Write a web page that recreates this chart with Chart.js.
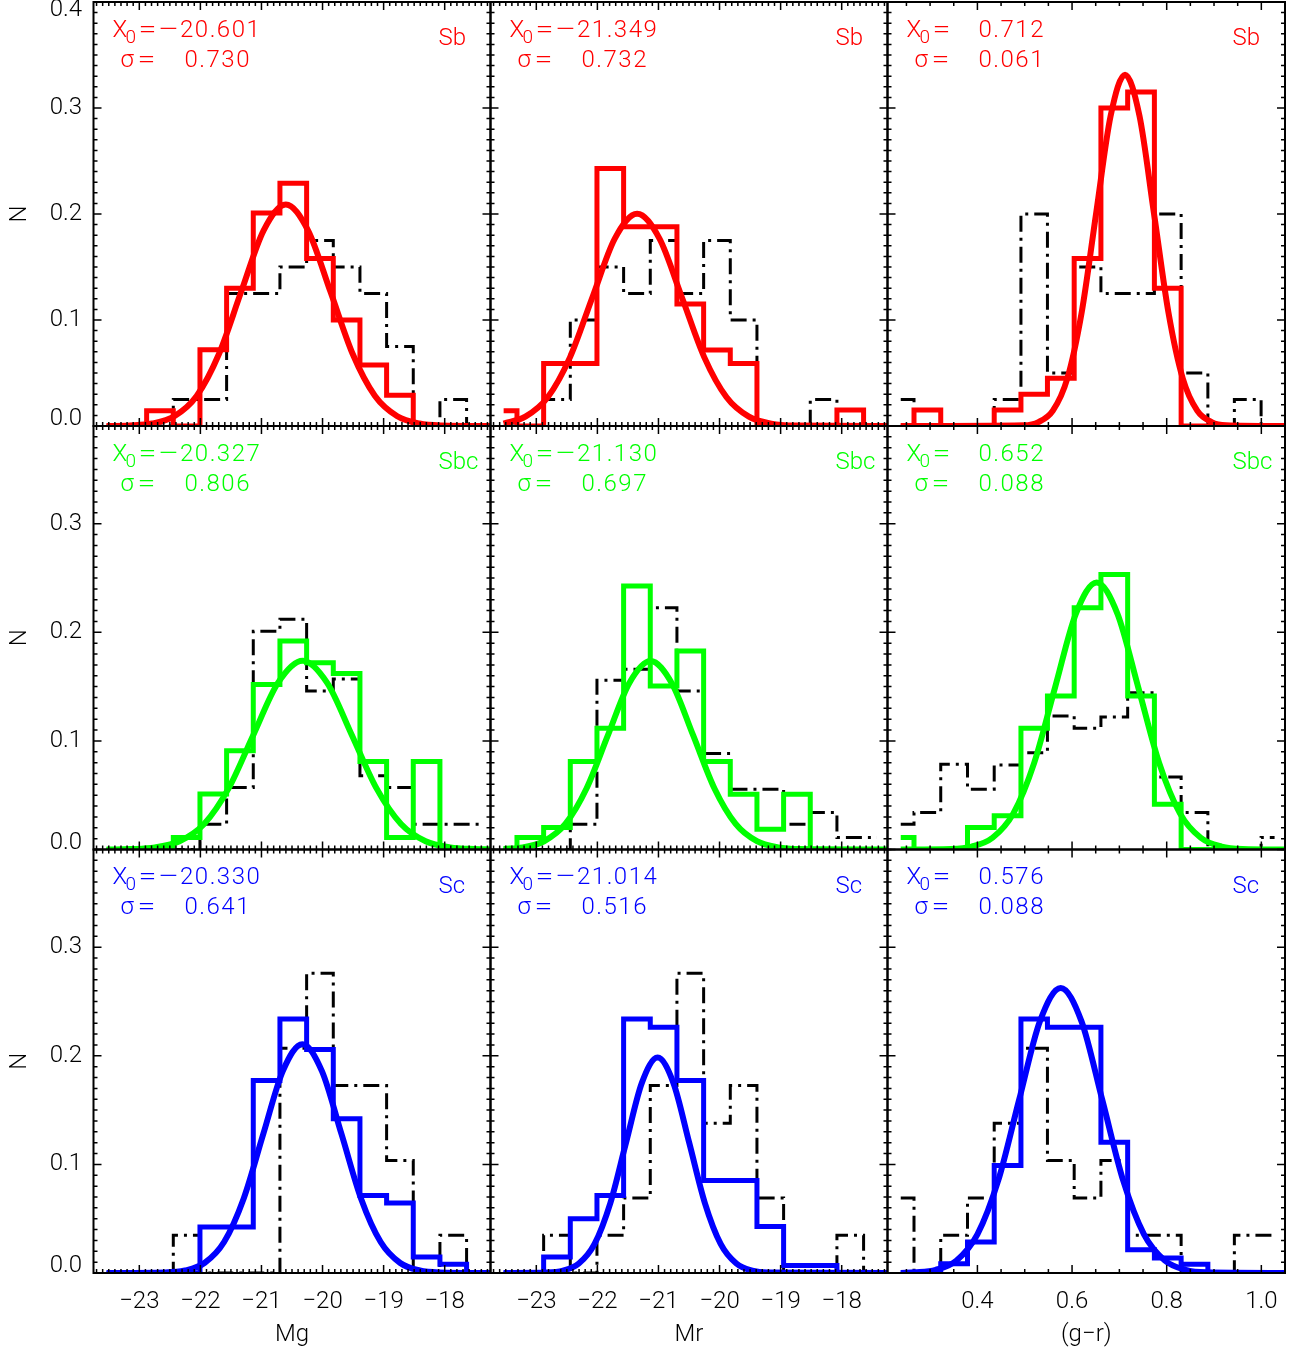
<!DOCTYPE html>
<html>
<head>
<meta charset="utf-8">
<script src="https://cdn.jsdelivr.net/npm/chart.js@4.4.0/dist/chart.umd.min.js"></script>
<style>
  body { margin: 0; background: #fff; }
  #wrap { position: relative; width: 1302px; height: 1351px; }
  #wrap canvas { position: absolute; left: 0; top: 0; }
</style>
</head>
<body>
<div id="wrap"></div>
<script>
// bin centres shared by the magnitude columns and by the colour column
const magCenters = [-23.535, -23.098, -22.662, -22.225, -21.789, -21.352, -20.916, -20.479, -20.042, -19.606, -19.169, -18.733, -18.296, -17.860, -17.423, -16.987];
const grCenters = [0.238, 0.294, 0.351, 0.407, 0.464, 0.520, 0.576, 0.633, 0.689, 0.746, 0.802, 0.859, 0.915, 0.971, 1.028, 1.084];

const magTicks = [-23, -22, -21, -20, -19, -18];
const grTicks = [0.4, 0.6, 0.8, 1.0];
const yTicks = [0, 0.1, 0.2, 0.3, 0.4];

// Sb
const sbMgHist = [0, 0, 0.0145, 0, 0.072, 0.130, 0.201, 0.229, 0.158, 0.100, 0.0575, 0.029, 0, 0, 0, 0];
const sbMgAll  = [0, 0, 0, 0.025, 0.025, 0.125, 0.125, 0.15, 0.175, 0.15, 0.125, 0.075, 0, 0.025, 0];
const sbMrHist = [0.0145, 0, 0.059, 0.059, 0.243, 0.188, 0.188, 0.115, 0.0717, 0.059, 0, 0, 0, 0.0151, 0, 0];
const sbMrAll  = [0, 0, 0.025, 0.1, 0.15, 0.125, 0.175, 0.125, 0.175, 0.1, 0, 0, 0.025, 0, 0];
const sbGrHist = [0, 0.015, 0, 0, 0.015, 0.030, 0.045, 0.158, 0.300, 0.315, 0.130, 0, 0, 0, 0, 0];
const sbGrAll  = [0.025, 0, 0, 0, 0.025, 0.2, 0.05, 0.15, 0.125, 0.125, 0.2, 0.05, 0, 0.025, 0];

// Sbc
const sbcMgHist = [0, 0, 0, 0.011, 0.051, 0.091, 0.152, 0.192, 0.172, 0.162, 0.081, 0.011, 0.081, 0, 0, 0];
const sbcMgAll  = [0, 0, 0, 0, 0.0233, 0.057, 0.201, 0.212, 0.146, 0.157, 0.068, 0.057, 0.0233, 0.0233, 0.0233];
const sbcMrHist = [0, 0.011, 0.0202, 0.081, 0.1116, 0.2426, 0.1506, 0.1828, 0.081, 0.0509, 0.0187, 0.0509, 0, 0, 0, 0];
const sbcMrAll  = [0, 0, 0, 0.0233, 0.1558, 0.1659, 0.2226, 0.146, 0.0883, 0.0555, 0.0555, 0.0233, 0.034, 0.011, 0.011];
const sbcGrHist = [0.011, 0, 0, 0.0202, 0.031, 0.1116, 0.1414, 0.2226, 0.2533, 0.1414, 0.0417, 0, 0, 0, 0, 0];
const sbcGrAll  = [0.0233, 0.034, 0.0785, 0.0555, 0.0779, 0.0892, 0.123, 0.1116, 0.122, 0.1444, 0.0668, 0.034, 0, 0, 0.011];

// Sc
const scMgHist = [0, 0, 0, 0, 0.0423, 0.0423, 0.1772, 0.234, 0.2058, 0.142, 0.0714, 0.0644, 0.0147, 0.008, 0, 0];
const scMgAll  = [0, 0, 0, 0.0347, 0, 0, 0, 0.207, 0.276, 0.1726, 0.1726, 0.1036, 0, 0.0347, 0];
const scMrHist = [0, 0, 0.0147, 0.05, 0.0714, 0.234, 0.2263, 0.1772, 0.0852, 0.0852, 0.0429, 0.007, 0.007, 0, 0, 0];
const scMrAll  = [0, 0, 0.0347, 0, 0.0347, 0.069, 0.1726, 0.276, 0.138, 0.1726, 0.069, 0, 0, 0.0347, 0];
const scGrHist = [0, 0, 0.0086, 0.0285, 0.099, 0.234, 0.2263, 0.2263, 0.1205, 0.0215, 0.0138, 0.008, 0, 0, 0, 0];
const scGrAll  = [0.069, 0, 0.0347, 0.069, 0.138, 0.207, 0.1036, 0.069, 0.1036, 0.0347, 0.0347, 0, 0, 0.0347, 0.0347];

// fitted curves
const sbMgFitX = [-23.535, -23.156, -22.791, -22.426, -22.061, -21.696, -21.331, -20.966, -20.601, -20.236, -19.871, -19.506, -19.141, -18.776, -18.411, -18.046, -17.25];
const sbMgFitY = [0, 0.0005, 0.0023, 0.0092, 0.0283, 0.0679, 0.1268, 0.1844, 0.209, 0.1844, 0.1268, 0.0679, 0.0283, 0.0092, 0.0023, 0.0005, 0];
const sbMrFitX = [-23.535, -23.179, -22.813, -22.447, -22.081, -21.715, -21.349, -20.983, -20.617, -20.251, -19.885, -19.519, -19.153, -18.787, -17.25];
const sbMrFitY = [0.0023, 0.0088, 0.0271, 0.0650, 0.1215, 0.1768, 0.2003, 0.1768, 0.1215, 0.0650, 0.0271, 0.0088, 0.0022, 0.0004, 0];
const sbGrFitX = [0.238, 0.4985, 0.529, 0.5595, 0.590, 0.6205, 0.651, 0.6815, 0.712, 0.7425, 0.773, 0.8035, 0.834, 0.8645, 0.895, 0.9255, 1.05];
const sbGrFitY = [0, 0.0007, 0.0037, 0.0145, 0.0448, 0.1076, 0.2010, 0.2925, 0.3314, 0.2925, 0.2010, 0.1076, 0.0448, 0.0145, 0.0037, 0.0007, 0];

const sbcMgFitX = [-23.535, -23.148, -22.745, -22.342, -21.939, -21.536, -21.133, -20.730, -20.327, -19.924, -19.521, -19.118, -18.715, -18.312, -17.909, -17.506, -17.25];
const sbcMgFitY = [0, 0.0004, 0.0019, 0.0076, 0.0235, 0.0565, 0.1055, 0.1535, 0.1739, 0.1535, 0.1055, 0.0565, 0.0235, 0.0076, 0.0019, 0.0004, 0.0001];
const sbcMrFitX = [-23.535, -23.221, -22.873, -22.524, -22.176, -21.827, -21.479, -21.130, -20.782, -20.433, -20.085, -19.736, -19.388, -19.039, -18.691, -17.25];
const sbcMrFitY = [0.0005, 0.0019, 0.0076, 0.0235, 0.0564, 0.1053, 0.1532, 0.1736, 0.1532, 0.1053, 0.0564, 0.0235, 0.0076, 0.0019, 0.0004, 0];
const sbcGrFitX = [0.238, 0.344, 0.388, 0.432, 0.476, 0.520, 0.564, 0.608, 0.652, 0.696, 0.740, 0.784, 0.828, 0.872, 0.916, 0.960, 1.05];
const sbcGrFitY = [0, 0.0005, 0.0027, 0.0108, 0.0333, 0.0798, 0.1491, 0.2170, 0.2459, 0.2170, 0.1491, 0.0798, 0.0333, 0.0108, 0.0027, 0.0005, 0];

const scMgFitX = [-23.535, -22.574, -22.253, -21.933, -21.612, -21.292, -20.971, -20.651, -20.330, -20.010, -19.689, -19.369, -19.048, -18.728, -18.407, -18.087, -17.25];
const scMgFitY = [0, 0.0005, 0.0023, 0.0092, 0.0285, 0.0684, 0.1278, 0.1859, 0.2107, 0.1859, 0.1278, 0.0684, 0.0285, 0.0092, 0.0023, 0.0005, 0];
const scMrFitX = [-23.535, -22.820, -22.562, -22.304, -22.046, -21.788, -21.530, -21.272, -21.014, -20.756, -20.498, -20.240, -19.982, -19.724, -19.466, -19.208, -17.25];
const scMrFitY = [0, 0.0004, 0.0022, 0.0087, 0.0268, 0.0644, 0.1203, 0.1751, 0.1984, 0.1751, 0.1203, 0.0644, 0.0268, 0.0087, 0.0022, 0.0004, 0];
const scGrFitX = [0.238, 0.268, 0.312, 0.356, 0.400, 0.444, 0.488, 0.532, 0.576, 0.620, 0.664, 0.708, 0.752, 0.796, 0.840, 0.884, 1.05];
const scGrFitY = [0.0001, 0.0006, 0.0029, 0.0115, 0.0355, 0.0852, 0.1592, 0.2317, 0.2625, 0.2317, 0.1592, 0.0852, 0.0355, 0.0115, 0.0029, 0.0006, 0];

// fit parameters printed in each panel (columns: Mg, Mr, g-r)
const sbFitCentre = [-20.601, -21.349, 0.712];
const sbFitSigma = [0.730, 0.732, 0.061];
const sbcFitCentre = [-20.327, -21.130, 0.652];
const sbcFitSigma = [0.806, 0.697, 0.088];
const scFitCentre = [-20.330, -21.014, 0.576];
const scFitSigma = [0.641, 0.516, 0.088];

const typeNames = ['Sb', 'Sbc', 'Sc'];
const typeColors = ['#ff0000', '#00ff00', '#0000ff'];
const axisTitles = ['Mg', 'Mr', '(g\u2212r)'];

// layout of the 3x3 grid (pixels)
const ROWS = [[2, 426], [426, 849.5], [849.5, 1273]];
const COLS = [[93.5, 490.5], [490.5, 887.5], [887.5, 1285]];
const W = 1302, H = 1351;
const FONT = 'Roboto, "DejaVu Sans", sans-serif';

const pts = (xs, ys) => ys.map((y, i) => ({ x: xs[i], y: y }));
const minus = v => (v < 0 ? '\u2212' + Math.abs(v) : String(v));

function stepsIn(min, max, step) {
    const out = [];
    for (let i = Math.ceil(min / step - 1e-6); i * step <= max + 1e-9; i++) out.push(i * step);
    return out;
}

// the plot font has wide '=' and '−' signs, so draw those stretched
function wideText(ctx, s, x, y, sx) {
    ctx.save();
    ctx.translate(x, y);
    ctx.scale(sx, 1);
    ctx.fillText(s, 0, 0);
    ctx.restore();
}

// frame, inward ticks on all sides, y labels and the fit labels
const panelDecor = {
    id: 'panelDecor',
    afterDatasetsDraw(chart, args, o) {
        const { ctx, chartArea: a } = chart;
        const xs = chart.scales.x, ys = chart.scales.y;
        ctx.save();
        ctx.strokeStyle = '#000';
        ctx.lineWidth = 1.5;
        ctx.beginPath();
        stepsIn(xs.min, xs.max, o.xMinor).forEach(v => {
            const px = xs.getPixelForValue(v);
            const len = o.xMajor.some(m => Math.abs(m - v) < 1e-6) ? 8 : 4;
            ctx.moveTo(px, a.bottom); ctx.lineTo(px, a.bottom - len);
            ctx.moveTo(px, a.top); ctx.lineTo(px, a.top + len);
        });
        stepsIn(ys.min, ys.max, 0.01).forEach(v => {
            const py = ys.getPixelForValue(v);
            const len = yTicks.some(m => Math.abs(m - v) < 1e-6) ? 8 : 4;
            ctx.moveTo(a.left, py); ctx.lineTo(a.left + len, py);
            ctx.moveTo(a.right, py); ctx.lineTo(a.right - len, py);
        });
        ctx.stroke();
        ctx.lineWidth = 2;
        ctx.strokeRect(a.left, a.top, a.right - a.left, a.bottom - a.top);

        // y tick labels (end labels pulled inside the panel, as in the original)
        if (o.yLabels) {
            ctx.fillStyle = '#000';
            ctx.font = '300 24px ' + FONT;
            ctx.textAlign = 'right';
            ctx.textBaseline = 'middle';
            yTicks.filter(v => v <= ys.max + 1e-9).forEach(v => {
                let py = ys.getPixelForValue(v);
                if (v === 0) py -= 7;
                if (Math.abs(v - ys.max) < 1e-9) py += 8;
                ctx.fillText(v.toFixed(1), a.left - 11.5, py);
            });
        }

        // X0 / sigma text
        const L = a.left, T = a.top;
        ctx.fillStyle = o.color;
        ctx.textAlign = 'left';
        ctx.textBaseline = 'alphabetic';
        ctx.font = '300 24px ' + FONT;
        ctx.fillText('X', L + 19, T + 34.7);
        wideText(ctx, '=', L + 45, T + 34.7, 1.35);
        ctx.fillText('\u03c3', L + 27, T + 64.7);
        wideText(ctx, '=', L + 44, T + 64.7, 1.35);
        ctx.fillText(o.type, L + 345, T + 43);
        ctx.font = '300 19px ' + FONT;
        ctx.fillText('0', L + 32, T + 40.5);
        ctx.font = '300 24px ' + FONT;
        const c = o.centre;
        if (c < 0) wideText(ctx, '\u2212', L + 64, T + 34.7, 1.6);
        ctx.letterSpacing = '1.5px';
        if (c < 0) ctx.fillText(Math.abs(c).toFixed(3), L + 86.5, T + 34.7);
        else ctx.fillText(c.toFixed(3), L + 91, T + 34.7);
        ctx.fillText(o.sigma.toFixed(3), L + 91, T + 64.7);
        ctx.restore();
    }
};

const panels = [
    [sbMgHist, sbMgAll, sbMgFitX, sbMgFitY], [sbMrHist, sbMrAll, sbMrFitX, sbMrFitY], [sbGrHist, sbGrAll, sbGrFitX, sbGrFitY],
    [sbcMgHist, sbcMgAll, sbcMgFitX, sbcMgFitY], [sbcMrHist, sbcMrAll, sbcMrFitX, sbcMrFitY], [sbcGrHist, sbcGrAll, sbcGrFitX, sbcGrFitY],
    [scMgHist, scMgAll, scMgFitX, scMgFitY], [scMrHist, scMrAll, scMrFitX, scMrFitY], [scGrHist, scGrAll, scGrFitX, scGrFitY]
];
const centres = [sbFitCentre, sbcFitCentre, scFitCentre];
const sigmas = [sbFitSigma, sbcFitSigma, scFitSigma];

const tickFont = { family: FONT, size: 24, weight: 300 };
const wrap = document.getElementById('wrap');

panels.forEach((p, i) => {
    const row = Math.floor(i / 3), col = i % 3;
    const isColour = col === 2;
    const centers = isColour ? grCenters : magCenters;
    const color = typeColors[row];
    const leftCol = col === 0, bottomRow = row === 2;

    const canvas = document.createElement('canvas');
    canvas.width = W;
    canvas.height = H;
    wrap.appendChild(canvas);

    new Chart(canvas, {
        type: 'line',
        data: {
            datasets: [
                {
                    data: pts(p[2], p[3]),
                    borderColor: color, borderWidth: 6, pointRadius: 0,
                    cubicInterpolationMode: 'monotone', order: 0
                },
                {
                    data: pts(centers, p[0]),
                    borderColor: color, borderWidth: 5, pointRadius: 0,
                    stepped: 'middle', borderJoinStyle: 'miter', borderCapStyle: 'butt', order: 1
                },
                {
                    data: pts(centers, p[1]),
                    borderColor: '#000', borderWidth: 3, pointRadius: 0,
                    borderDash: [16, 6, 3, 6], stepped: 'middle', borderJoinStyle: 'miter', order: 2
                }
            ]
        },
        options: {
            responsive: false,
            animation: false,
            events: [],
            layout: {
                padding: {
                    left: leftCol ? 0 : COLS[col][0],
                    right: W - COLS[col][1],
                    top: ROWS[row][0],
                    bottom: bottomRow ? 0 : H - ROWS[row][1]
                }
            },
            plugins: {
                legend: { display: false },
                tooltip: { enabled: false },
                panelDecor: {
                    color: color,
                    type: typeNames[row],
                    centre: centres[row][col],
                    sigma: sigmas[row][col],
                    xMajor: isColour ? grTicks : magTicks,
                    xMinor: isColour ? 0.05 : 0.1,
                    yLabels: leftCol
                }
            },
            scales: {
                x: {
                    type: 'linear',
                    min: isColour ? 0.21 : -23.75,
                    max: isColour ? 1.05 : -17.25,
                    display: bottomRow,
                    grid: { display: false, drawTicks: false },
                    border: { display: false },
                    afterBuildTicks: s => { s.ticks = (isColour ? grTicks : magTicks).map(v => ({ value: v })); },
                    afterFit: s => {
                        if (!bottomRow) return;
                        s.height = H - ROWS[2][1];
                        s.paddingLeft = 0; s.paddingRight = 0;
                    },
                    ticks: {
                        autoSkip: false, maxRotation: 0, padding: 15,
                        color: '#000', font: tickFont,
                        callback: v => (isColour ? v.toFixed(1) : minus(v))
                    },
                    title: {
                        display: true, text: axisTitles[col], color: '#000',
                        font: tickFont, padding: { top: 0, bottom: 2 }
                    }
                },
                y: {
                    min: 0,
                    max: row === 0 ? 0.4 : 0.39,
                    display: leftCol,
                    grid: { display: false, drawTicks: false },
                    border: { display: false },
                    afterFit: s => {
                        if (!leftCol) return;
                        s.width = COLS[0][0];
                        s.paddingTop = 0; s.paddingBottom = 0;
                    },
                    ticks: { display: false },
                    title: {
                        display: true, text: 'N', color: '#000',
                        font: tickFont, padding: { top: 6, bottom: 0 }
                    }
                }
            }
        },
        plugins: [panelDecor]
    });
});
</script>
</body>
</html>
